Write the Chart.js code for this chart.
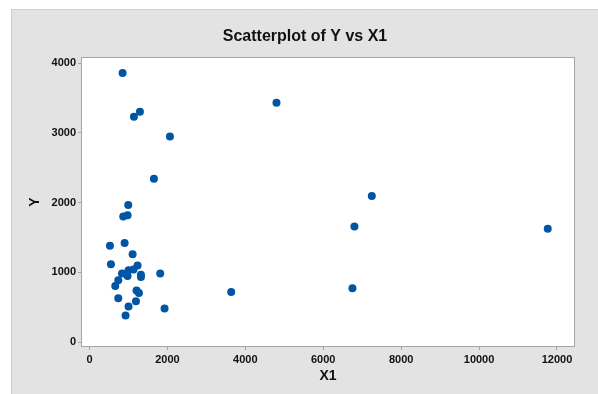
<!DOCTYPE html>
<html>
<head>
<meta charset="utf-8">
<script src="https://cdn.jsdelivr.net/npm/chart.js@4.4.1/dist/chart.umd.min.js"></script>
<style>
    html, body { margin: 0; padding: 0; background: #fff; }
    #wrap { width: 598px; height: 394px; }
</style>
</head>
<body>
<div id="wrap"><canvas id="grafico" width="598" height="394"></canvas></div>
<script>
// Dados (X1, Y)
const x1Values = [4800, 7247, 6801, 11763, 3638, 6750, 850, 1295, 1141, 2065,
                  1654, 995, 978, 867, 525, 902, 1107, 551, 1234, 834,
                  1003, 1131, 977, 1321, 1321, 1816, 739, 662, 1208, 1270,
                  739, 1193, 1003, 1927, 926];
const yValues  = [3430, 2093, 1658, 1624, 718, 771, 3856, 3300, 3228, 2946,
                  2342, 1964, 1816, 1801, 1379, 1418, 1260, 1116, 1097, 983,
                  1030, 1040, 948, 963, 934, 983, 886, 805, 738, 704,
                  628, 585, 509, 480, 379];
const xTicks = [0, 2000, 4000, 6000, 8000, 10000, 12000];
const yTicks = [0, 1000, 2000, 3000, 4000];

const titulo = 'Scatterplot of Y vs X1';
const corPonto = '#0055a5';
const fonteBase = '"Liberation Sans", Arial, sans-serif';

// Fundo cinza, área branca e moldura do gráfico
const fundoPlugin = {
    id: 'fundo',
    beforeDraw(chart) {
        const ctx = chart.ctx;
        const a = chart.chartArea;
        ctx.save();
        ctx.fillStyle = '#ffffff';
        ctx.fillRect(0, 0, chart.width, chart.height);
        ctx.fillStyle = '#e3e3e3';
        ctx.fillRect(11, 9, chart.width - 11, chart.height - 9);
        ctx.strokeStyle = '#cfcfcf';
        ctx.lineWidth = 1;
        ctx.beginPath();
        ctx.moveTo(11.5, chart.height);
        ctx.lineTo(11.5, 9.5);
        ctx.lineTo(chart.width, 9.5);
        ctx.stroke();
        ctx.fillStyle = '#ffffff';
        ctx.fillRect(a.left, a.top, a.right - a.left, a.bottom - a.top);
        ctx.restore();
    },
    afterDraw(chart) {
        const ctx = chart.ctx;
        const a = chart.chartArea;
        ctx.save();
        ctx.strokeStyle = '#a6a6a6';
        ctx.lineWidth = 1;
        ctx.strokeRect(Math.round(a.left) - 0.5, Math.round(a.top) - 0.5,
                       Math.round(a.right - a.left) + 1, Math.round(a.bottom - a.top) + 1);
        ctx.fillStyle = '#111';
        ctx.font = 'bold 16px ' + fonteBase;
        ctx.textAlign = 'center';
        ctx.textBaseline = 'middle';
        ctx.fillText(titulo, 305, 37);
        ctx.restore();
    }
};

const pontos = x1Values.map((x, i) => ({ x: x, y: yValues[i] }));

new Chart(document.getElementById('grafico'), {
    type: 'scatter',
    data: {
        datasets: [{
            label: 'Y',
            data: pontos,
            backgroundColor: corPonto,
            borderColor: corPonto,
            borderWidth: 0,
            pointRadius: 4,
            pointHoverRadius: 4
        }]
    },
    options: {
        responsive: false,
        animation: false,
        devicePixelRatio: 1,
        layout: {
            padding: { left: 11, right: 24, top: 58, bottom: 0 }
        },
        plugins: {
            legend: { display: false },
            title: { display: false },
            tooltip: { enabled: false }
        },
        scales: {
            x: {
                type: 'linear',
                min: -192,
                max: 12437,
                afterBuildTicks: s => { s.ticks = xTicks.map(v => ({ value: v })); },
                afterFit: s => { s.height = 48; },
                border: { display: false },
                grid: {
                    drawOnChartArea: false,
                    drawTicks: true,
                    tickLength: 4,
                    color: '#a6a6a6'
                },
                ticks: {
                    padding: 3,
                    maxRotation: 0,
                    color: '#111',
                    callback: v => String(v),
                    font: { family: fonteBase, size: 11, weight: 'bold' }
                },
                title: {
                    display: true,
                    text: 'X1',
                    color: '#111',
                    padding: { top: 0, bottom: 9 },
                    font: { family: fonteBase, size: 14, weight: 'bold' }
                }
            },
            y: {
                type: 'linear',
                min: -57,
                max: 4072,
                afterBuildTicks: s => { s.ticks = yTicks.map(v => ({ value: v })); },
                afterFit: s => { s.width = 71; },
                border: { display: false },
                grid: {
                    drawOnChartArea: false,
                    drawTicks: true,
                    tickLength: 4,
                    color: '#a6a6a6'
                },
                ticks: {
                    padding: 2,
                    color: '#111',
                    callback: v => String(v),
                    font: { family: fonteBase, size: 11, weight: 'bold' }
                },
                title: {
                    display: true,
                    text: 'Y',
                    color: '#111',
                    padding: { top: 16, bottom: 0 },
                    font: { family: fonteBase, size: 14, weight: 'bold' }
                }
            }
        }
    },
    plugins: [fundoPlugin]
});
</script>
</body>
</html>
